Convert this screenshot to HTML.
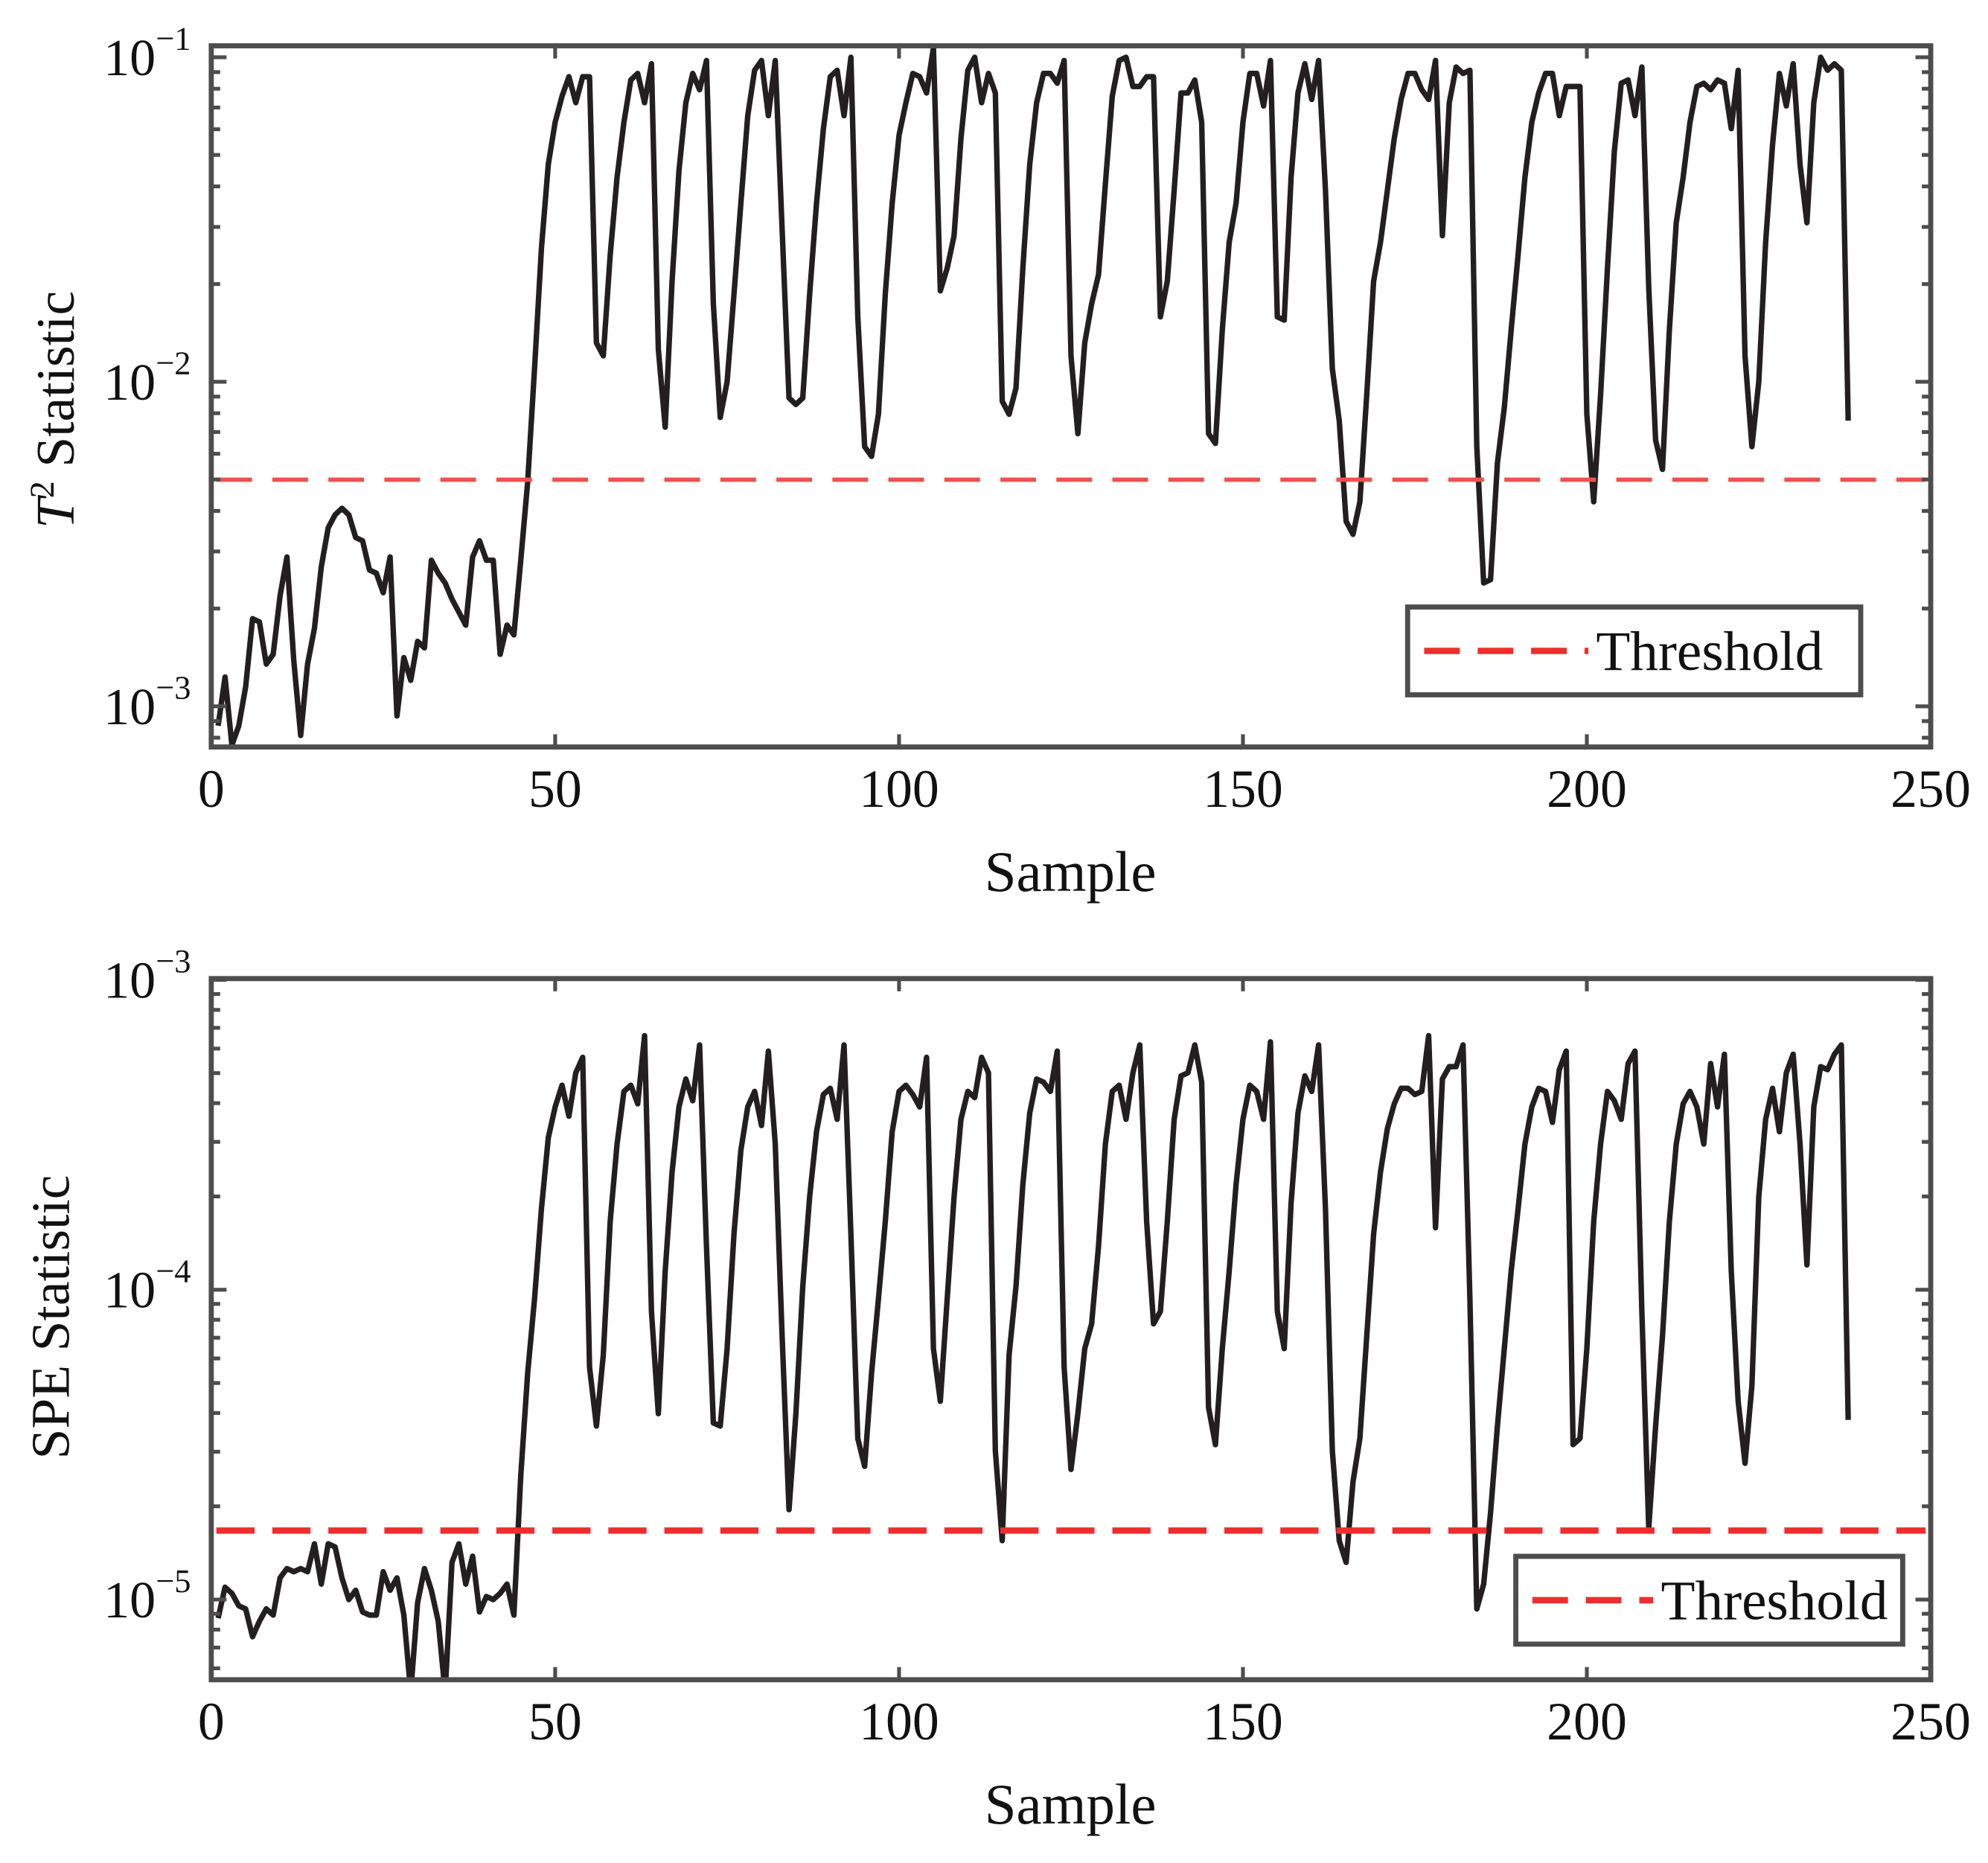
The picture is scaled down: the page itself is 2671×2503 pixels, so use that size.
<!DOCTYPE html>
<html><head><meta charset="utf-8">
<style>
html,body{margin:0;padding:0;background:#fff;}
svg{display:block;}
text{font-family:"Liberation Serif","Times New Roman",serif;fill:#111;}
</style></head>
<body>
<svg id="fig" width="2671" height="2503" viewBox="0 0 1562 1464" preserveAspectRatio="none" xmlns="http://www.w3.org/2000/svg">
<rect x="0" y="0" width="1562" height="1464" fill="#fff"/>
</svg>
<script>
// ---- data (log10 of statistic, sample index = position + 1) ----
const t2Log = [-3.06,-2.91,-3.12,-3.06,-2.94,-2.73,-2.74,-2.87,-2.84,-2.66,-2.54,-2.86,-3.09,-2.87,-2.76,-2.57,-2.45,-2.41,-2.39,-2.41,-2.48,-2.49,-2.58,-2.59,-2.65,-2.54,-3.03,-2.85,-2.92,-2.80,-2.82,-2.55,-2.59,-2.62,-2.67,-2.71,-2.75,-2.54,-2.49,-2.55,-2.55,-2.84,-2.75,-2.78,-2.55,-2.31,-1.96,-1.59,-1.33,-1.20,-1.12,-1.06,-1.14,-1.06,-1.06,-1.88,-1.92,-1.61,-1.37,-1.20,-1.07,-1.05,-1.14,-1.02,-1.90,-2.14,-1.69,-1.35,-1.14,-1.05,-1.10,-1.01,-1.76,-2.11,-2.00,-1.73,-1.45,-1.18,-1.04,-1.01,-1.18,-1.01,-1.53,-2.05,-2.07,-2.05,-1.73,-1.45,-1.22,-1.06,-1.04,-1.18,-1.00,-1.80,-2.20,-2.23,-2.10,-1.73,-1.45,-1.24,-1.14,-1.05,-1.06,-1.11,-0.97,-1.72,-1.65,-1.55,-1.25,-1.04,-1.00,-1.14,-1.05,-1.11,-2.06,-2.10,-2.02,-1.65,-1.33,-1.14,-1.05,-1.05,-1.08,-1.01,-1.92,-2.16,-1.88,-1.76,-1.67,-1.39,-1.12,-1.01,-1.00,-1.09,-1.09,-1.06,-1.06,-1.80,-1.69,-1.41,-1.11,-1.11,-1.07,-1.20,-2.16,-2.19,-1.84,-1.57,-1.45,-1.20,-1.05,-1.05,-1.15,-1.01,-1.80,-1.81,-1.37,-1.11,-1.02,-1.13,-1.01,-1.41,-1.96,-2.12,-2.43,-2.47,-2.37,-2.04,-1.69,-1.57,-1.41,-1.25,-1.13,-1.05,-1.05,-1.10,-1.13,-1.01,-1.55,-1.14,-1.03,-1.05,-1.04,-2.20,-2.62,-2.61,-2.25,-2.08,-1.84,-1.61,-1.37,-1.20,-1.11,-1.05,-1.05,-1.18,-1.09,-1.09,-1.09,-2.10,-2.37,-2.04,-1.65,-1.29,-1.08,-1.07,-1.18,-1.03,-1.71,-2.18,-2.27,-1.84,-1.51,-1.37,-1.20,-1.09,-1.08,-1.10,-1.07,-1.08,-1.22,-1.04,-1.92,-2.20,-2.00,-1.57,-1.27,-1.05,-1.15,-1.02,-1.33,-1.51,-1.14,-1.00,-1.04,-1.02,-1.04,-2.12];
const speLog = [-5.06,-4.96,-4.98,-5.02,-5.03,-5.12,-5.07,-5.03,-5.05,-4.93,-4.90,-4.91,-4.90,-4.91,-4.82,-4.95,-4.82,-4.83,-4.93,-5.00,-4.97,-5.04,-5.05,-5.05,-4.91,-4.97,-4.93,-5.05,-5.30,-5.01,-4.90,-4.97,-5.07,-5.30,-4.88,-4.82,-4.95,-4.86,-5.04,-4.99,-5.00,-4.98,-4.95,-5.05,-4.60,-4.27,-4.03,-3.74,-3.51,-3.41,-3.34,-3.44,-3.30,-3.25,-4.25,-4.44,-4.21,-3.78,-3.53,-3.36,-3.34,-3.40,-3.18,-4.07,-4.40,-3.94,-3.62,-3.41,-3.32,-3.39,-3.21,-3.86,-4.43,-4.44,-4.19,-3.82,-3.55,-3.41,-3.36,-3.47,-3.23,-3.53,-4.15,-4.71,-4.40,-3.99,-3.70,-3.49,-3.37,-3.35,-3.45,-3.21,-3.82,-4.48,-4.57,-4.27,-4.03,-3.78,-3.49,-3.36,-3.34,-3.37,-3.41,-3.25,-4.19,-4.36,-4.03,-3.70,-3.45,-3.36,-3.38,-3.25,-3.30,-4.52,-4.81,-4.21,-3.99,-3.66,-3.43,-3.32,-3.33,-3.36,-3.23,-4.25,-4.58,-4.40,-4.19,-4.11,-3.86,-3.53,-3.36,-3.34,-3.45,-3.30,-3.21,-3.78,-4.11,-4.07,-3.78,-3.45,-3.31,-3.30,-3.21,-3.33,-4.38,-4.50,-4.19,-3.94,-3.66,-3.45,-3.34,-3.36,-3.45,-3.20,-4.07,-4.19,-3.72,-3.43,-3.31,-3.36,-3.21,-3.74,-4.52,-4.81,-4.88,-4.62,-4.48,-4.15,-3.82,-3.62,-3.48,-3.40,-3.35,-3.35,-3.37,-3.36,-3.18,-3.80,-3.32,-3.28,-3.28,-3.21,-4.03,-5.03,-4.95,-4.72,-4.44,-4.19,-3.94,-3.74,-3.53,-3.41,-3.35,-3.36,-3.46,-3.29,-3.23,-4.50,-4.48,-4.19,-3.78,-3.53,-3.36,-3.39,-3.45,-3.27,-3.23,-4.07,-4.77,-4.44,-4.15,-3.78,-3.53,-3.40,-3.36,-3.41,-3.53,-3.27,-3.41,-3.24,-3.94,-4.36,-4.56,-4.31,-3.70,-3.45,-3.35,-3.49,-3.30,-3.24,-3.53,-3.92,-3.41,-3.28,-3.29,-3.24,-3.21,-4.42];
const t2Threshold = 0.00499;
const speThreshold = 1.67e-5;
const xTicks = [0, 50, 100, 150, 200, 250];
const t2Decades = [-3, -2, -1];
const speDecades = [-5, -4, -3];

const NS = "http://www.w3.org/2000/svg";
const svg = document.getElementById('fig');
function mk(tag, attrs, parent) {
  const e = document.createElementNS(NS, tag);
  for (const k in attrs) e.setAttribute(k, attrs[k]);
  (parent || svg).appendChild(e);
  return e;
}

function drawPanel(cfg) {
  const g = mk('g', {});
  
  
  const L = 166, R = 1517, T = cfg.top, B = cfg.bottom;
  const xS = v => L + (v - 0) / 250 * (R - L);
  const yS = lv => cfg.y0 + (cfg.d0 - lv) * cfg.pxDec;

  const cp = mk('clipPath', {id: cfg.name + '-clip'}, g);
  mk('rect', {x: L, y: T, width: R - L, height: B - T}, cp);

  let d = '';
  cfg.data.forEach((v, i) => { d += (i ? 'L' : 'M') + xS(i + 1).toFixed(2) + ' ' + yS(v).toFixed(2); });
  const line = mk('path', {d: d, fill: 'none', stroke: '#231f20', 'stroke-width': 4.3, 'stroke-linejoin': 'round', 'clip-path': 'url(#' + cfg.name + '-clip)'}, g);
  
  

  const ty = yS(Math.log10(cfg.thr));
  const th = mk('line', {x1: L + 4, x2: R - 4, y1: ty, y2: ty, stroke: cfg.thrColor, 'stroke-width': cfg.thrW, 'stroke-dasharray': cfg.dash}, g);
  
  

  const tk = mk('g', {stroke: '#4d4d4d', 'stroke-width': 3}, g);
  xTicks.forEach(t => {
    const x = xS(t);
    mk('line', {x1: x, x2: x, y1: B, y2: B - 10}, tk);
    mk('line', {x1: x, x2: x, y1: T, y2: T + 10}, tk);
  });
  cfg.decades.forEach(dec => {
    for (let m = 1; m <= 9; m++) {
      const y = yS(dec + Math.log10(m));
      if (y < T - 0.5 || y > B + 0.5) continue;
      const len = m === 1 ? 12 : 7;
      mk('line', {x1: L, x2: L + len, y1: y, y2: y}, tk);
      mk('line', {x1: R, x2: R - len, y1: y, y2: y}, tk);
    }
    if (dec === cfg.decades[0]) {
      for (let m = 2; m <= 9; m++) {
        const y = yS(dec - 1 + Math.log10(m));
        if (y < T || y > B) continue;
        mk('line', {x1: L, x2: L + 7, y1: y, y2: y}, tk);
        mk('line', {x1: R, x2: R - 7, y1: y, y2: y}, tk);
      }
    }
  });

  const fr = mk('rect', {x: L, y: T, width: R - L, height: B - T, fill: 'none', stroke: '#4d4d4d', 'stroke-width': 4}, g);
  
  

  xTicks.forEach(t => {
    const tx = mk('text', {x: xS(t), y: B + 47, 'font-size': 42, 'text-anchor': 'middle'}, g);
    tx.textContent = String(t);
    
    
  });
  cfg.decades.forEach(dec => {
    const y = yS(dec);
    const tx = mk('text', {x: 150, y: y + 14, 'font-size': 41, 'text-anchor': 'end'}, g);
    const a = mk('tspan', {}, tx); a.textContent = '10';
    const b = mk('tspan', {'font-size': 26, dy: -20}, tx); b.textContent = '\u2212' + Math.abs(dec);
    
    
  });

  const xt = mk('text', {x: 841, y: B + 113, 'font-size': 45, 'text-anchor': 'middle'}, g);
  xt.textContent = 'Sample';
  
  

  const yt = mk('text', {x: 0, y: 0, 'font-size': 43, 'text-anchor': 'middle', transform: 'translate(' + cfg.ytX + ',' + cfg.ytY + ') rotate(-90)'}, g);
  if (cfg.name === 't2') {
    const a = mk('tspan', {'font-style': 'italic'}, yt); a.textContent = 'T';
    const b = mk('tspan', {'font-size': 27, dy: -16}, yt); b.textContent = '2';
    const c = mk('tspan', {dy: 16}, yt); c.textContent = ' Statistic';
  } else {
    yt.textContent = 'SPE Statistic';
  }
  
  

  const lg = mk('g', {}, g);
  
  
  const lb = cfg.legend;
  mk('rect', {x: lb.x, y: lb.y, width: lb.w, height: lb.h, fill: '#fff', stroke: '#4d4d4d', 'stroke-width': 4}, lg);
  const ly = lb.y + lb.h / 2;
  const ll = mk('line', {x1: lb.x + 13, x2: lb.x + lb.lineLen, y1: ly, y2: ly, stroke: '#ee2e2e', 'stroke-width': 5, 'stroke-dasharray': '28 14'}, lg);
  
  
  const lt = mk('text', {x: lb.x + lb.lineLen + 6, y: ly + 15, 'font-size': 44}, lg);
  lt.textContent = 'Threshold';
  
  
}

drawPanel({name: 't2', top: 36, bottom: 587, y0: 45, d0: -1, pxDec: 255, data: t2Log, thr: t2Threshold,
  thrColor: '#ef5050', thrW: 3.4, dash: '28 16', decades: t2Decades, ytX: 58, ytY: 322,
  legend: {x: 1106, y: 477, w: 356, h: 69, lineLen: 142}});
drawPanel({name: 'spe', top: 769, bottom: 1320, y0: 770, d0: -3, pxDec: 243.5, data: speLog, thr: speThreshold,
  thrColor: '#ee2e2e', thrW: 5, dash: '30 14', decades: speDecades, ytX: 54, ytY: 1035,
  legend: {x: 1191, y: 1223, w: 304, h: 69, lineLen: 108}});
</script>
</body></html>
